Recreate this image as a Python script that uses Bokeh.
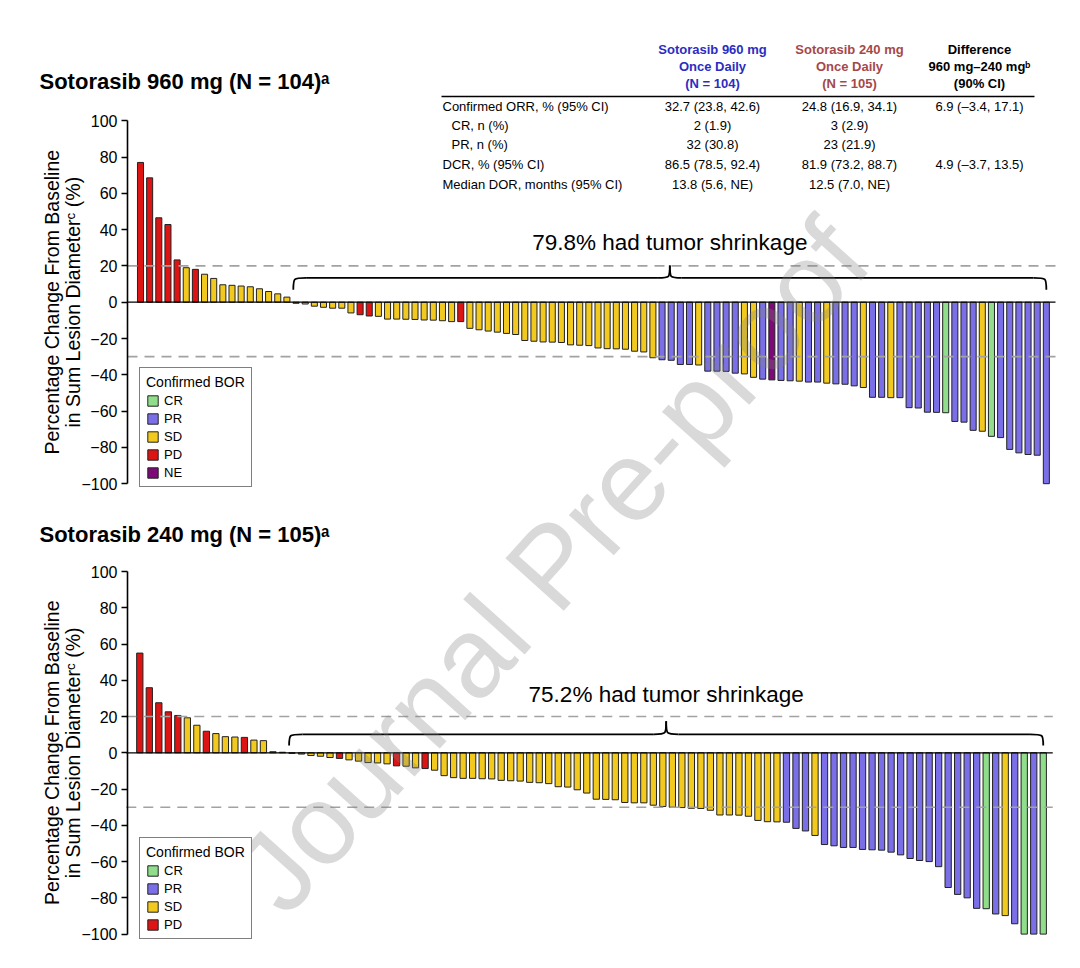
from bokeh.plotting import figure
from bokeh.models import (Range1d, FixedTicker, Label, Legend, LegendItem,
                          ColumnDataSource, LinearAxis)
from bokeh.embed import file_html
from bokeh.resources import INLINE

FONT = "Liberation Sans"

# ------------------------------------------------------------------ data
bor_categories = ["CR", "PR", "SD", "PD", "NE"]

top_title = "Sotorasib 960 mg (N = 104)\u1d43"
bot_title = "Sotorasib 240 mg (N = 105)\u1d43"
top_shrink_text = "79.8% had tumor shrinkage"
bot_shrink_text = "75.2% had tumor shrinkage"

top_change = [77.0, 68.5, 46.5, 42.8, 23.3, 19.0, 18.1, 15.4, 13.1, 9.6,
              9.3, 8.9, 8.5, 7.4, 5.9, 4.6, 2.8, -0.6, -1.0, -2.2,
              -2.8, -3.3, -3.3, -5.9, -6.9, -7.6, -7.8, -9.3, -9.3, -9.4,
              -9.5, -9.8, -9.9, -10.2, -10.7, -10.7, -14.4, -15.2, -15.9, -16.5,
              -17.2, -17.8, -21.1, -21.5, -21.9, -22.0, -22.2, -23.5, -23.7, -23.9,
              -25.2, -25.6, -25.7, -25.9, -27.0, -27.4, -30.6, -31.7, -32.0, -34.3,
              -34.3, -34.6, -38.0, -38.0, -38.1, -39.1, -39.5, -41.4, -42.4, -42.8,
              -43.1, -43.3, -43.5, -44.0, -44.0, -44.6, -45.0, -45.2, -46.1, -47.0,
              -52.4, -52.4, -52.6, -52.6, -58.1, -58.3, -60.6, -60.7, -60.9, -65.7,
              -66.1, -70.6, -71.1, -73.9, -74.6, -81.1, -83.0, -83.9, -84.3, -100.0]
top_bor = (["PD", "PD", "PD", "PD", "PD", "SD", "PD", "SD", "SD", "SD"]
           + ["SD"] * 10
           + ["SD", "SD", "SD", "SD", "PD", "PD", "SD", "SD", "SD", "SD"]
           + ["SD", "SD", "SD", "SD", "SD", "PD", "SD", "SD", "SD", "SD"]
           + ["SD"] * 10
           + ["SD", "SD", "SD", "SD", "SD", "SD", "SD", "PR", "PR", "PR"]
           + ["PR", "SD", "PR", "PR", "PR", "PR", "SD", "SD", "PR", "NE"]
           + ["PR", "PR", "SD", "PR", "PR", "SD", "PR", "PR", "PR", "SD"]
           + ["PR", "PR", "SD", "PR", "PR", "PR", "PR", "PR", "CR", "PR"]
           + ["PR", "PR", "SD", "CR", "PR", "PR", "PR", "PR", "PR", "PR"])

bot_change = [55.0, 35.9, 27.6, 22.6, 20.6, 19.3, 15.2, 11.9, 10.6, 8.9,
              8.7, 8.5, 7.0, 6.7, 0.6, 0.3, -0.3, -0.7, -1.5, -1.9,
              -2.6, -3.1, -3.9, -4.6, -5.4, -5.6, -6.1, -7.2, -7.4, -8.3,
              -8.7, -9.6, -12.6, -13.7, -14.1, -14.1, -14.3, -14.4, -15.2, -15.4,
              -15.6, -16.3, -16.5, -17.0, -18.7, -18.9, -20.4, -22.2, -25.6, -25.7,
              -25.9, -27.4, -27.6, -27.6, -28.9, -29.6, -30.0, -30.2, -30.6, -30.7,
              -31.7, -34.3, -34.3, -34.4, -35.0, -37.3, -38.0, -38.1, -38.3, -41.7,
              -43.1, -45.6, -50.6, -51.3, -52.2, -52.2, -53.3, -53.5, -53.7, -54.8,
              -56.3, -58.3, -59.4, -60.0, -62.8, -74.3, -78.1, -80.0, -85.8, -86.0,
              -88.9, -89.8, -94.3, -100.0, -100.0, -100.0]
bot_bor = (["PD", "PD", "PD", "PD", "PD", "SD", "SD", "PD", "SD", "SD"]
           + ["SD", "PD", "SD", "SD", "SD", "SD", "SD", "SD", "SD", "SD"]
           + ["SD", "PD", "SD", "SD", "SD", "SD", "SD", "PD", "SD", "SD"]
           + ["PD", "SD"] + ["SD"] * 8
           + ["SD"] * 10
           + ["SD"] * 10
           + ["SD"] * 8 + ["PR", "PR"]
           + ["PR", "SD"] + ["PR"] * 8
           + ["PR"] * 9 + ["CR"]
           + ["PR", "SD", "PR", "CR", "PR", "CR"])

tick_values = [-100, -80, -60, -40, -20, 0, 20, 40, 60, 80, 100]
tick_labels = ["\u2212100", "\u221280", "\u221260", "\u221240", "\u221220",
               "0", "20", "40", "60", "80", "100"]
ref_lines = [20, -30]

y_label_1 = "Percentage Change From Baseline"
y_label_2 = "in Sum Lesion Diameter\u1d9c (%)"
legend_title = "Confirmed BOR"

table_headers = [["Sotorasib 960 mg", "Once Daily", "(N = 104)"],
                 ["Sotorasib 240 mg", "Once Daily", "(N = 105)"],
                 ["Difference", "960 mg\u2013240 mg\u1d47", "(90% CI)"]]
table_row_labels = ["Confirmed ORR, % (95% CI)", "CR, n (%)", "PR, n (%)",
                    "DCR, % (95% CI)", "Median DOR, months (95% CI)"]
table_960 = ["32.7 (23.8, 42.6)", "2 (1.9)", "32 (30.8)", "86.5 (78.5, 92.4)", "13.8 (5.6, NE)"]
table_240 = ["24.8 (16.9, 34.1)", "3 (2.9)", "23 (21.9)", "81.9 (73.2, 88.7)", "12.5 (7.0, NE)"]
table_diff = ["6.9 (\u20133.4, 17.1)", "", "", "4.9 (\u20133.7, 13.5)", ""]

watermark = "Journal Pre-proof"

# ------------------------------------------------------------------ styles / geometry
colors = {"CR": "#90de8c", "PR": "#7a6fe6", "SD": "#f2c91e", "PD": "#dc1414", "NE": "#7e0a78"}
header_colors = ["#2c2cc2", "#a5484a", "#000000"]

TOP = dict(first_px=141.0, pitch=9.15, zero_px=302.7, ppu=1.815)
BOT = dict(first_px=140.3, pitch=9.51, zero_px=753.3, ppu=1.813)
W, H, OFF = 1064, 952, 1


def xd(g, X):
    return 1 + (X - g["first_px"]) / g["pitch"]


def yd(g, Y):
    return (g["zero_px"] - Y) / g["ppu"]


p = figure(width=W, height=H, title=None, output_backend="svg", toolbar_location=None,
           x_axis_type=None, y_axis_type=None, min_border=0,
           x_range=Range1d(xd(TOP, OFF), xd(TOP, OFF + W)),
           y_range=Range1d(yd(TOP, OFF + H), yd(TOP, OFF)))
p.extra_x_ranges = {"bx": Range1d(xd(BOT, OFF), xd(BOT, OFF + W))}
p.extra_y_ranges = {"by": Range1d(yd(BOT, OFF + H), yd(BOT, OFF))}
p.outline_line_color = None
p.background_fill_color = "white"

AXIS_X = xd(TOP, 128)


def label(g, rn, X, Y, text, **kw):
    args = dict(x=xd(g, X), y=yd(g, Y), text=text, text_font=FONT, text_font_size="13px",
                text_align="left", text_baseline="middle", text_color="black")
    args.update(kw)
    p.add_layout(Label(**args, **rn))


def brace(g, rn, x0, x1, y_line, y_end, y_peak, r, rc):
    xc = (x0 + x1) / 2
    p.bezier(x0=[x0, xc - rc, xc + rc, x1 - r], y0=[y_end, y_line, y_line, y_line],
             x1=[x0 + r, xc, xc, x1], y1=[y_line, y_peak, y_peak, y_end],
             cx0=[x0, xc, xc, x1], cy0=[y_line] * 4,
             cx1=[x0, xc, xc, x1], cy1=[y_line] * 4,
             line_color="black", line_width=1.8, **rn)
    p.segment(x0=[x0 + r, xc + rc], y0=[y_line, y_line], x1=[xc - rc, x1 - r],
              y1=[y_line, y_line], line_color="black", line_width=1.8, **rn)
    return xc


def panel(g, rn, change, bor, title, shrink, brace_y, legend_loc, title_y):
    n = len(change)
    idx = list(range(1, n + 1))
    ax = LinearAxis(ticker=FixedTicker(ticks=tick_values), bounds=(-100, 100),
                    fixed_location=AXIS_X, **({"y_range_name": rn["y_range_name"]} if rn else {}))
    ax.major_label_overrides = dict(zip(tick_values, tick_labels))
    ax.axis_line_width = 1.6
    ax.axis_line_color = "black"
    ax.major_tick_line_width = 1.4
    ax.major_tick_line_color = "black"
    ax.major_tick_out = 6
    ax.major_tick_in = 0
    ax.minor_tick_line_color = None
    ax.major_label_standoff = 4
    ax.major_label_text_font = FONT
    ax.major_label_text_font_size = "16px"
    ax.major_label_text_color = "black"
    p.add_layout(ax, "left")

    items = []
    for cat in bor_categories:
        xs = [i for i, b in zip(idx, bor) if b == cat]
        if not xs:
            continue
        vs = [v for v, b in zip(change, bor) if b == cat]
        src = ColumnDataSource(dict(x=xs, top=vs))
        r = p.vbar(x="x", top="top", bottom=0, width=0.66, source=src,
                   fill_color=colors[cat], line_color="#222222", line_width=1, **rn)
        items.append(LegendItem(label=cat, renderers=[r]))

    x_end = n + 1.0
    p.segment(x0=[AXIS_X] * len(ref_lines), y0=ref_lines, x1=[x_end] * len(ref_lines),
              y1=ref_lines, line_color="#a2a2a2", line_width=1.6, line_dash="10 7", **rn)
    p.segment(x0=[AXIS_X], y0=[0], x1=[x_end], y1=[0], line_color="black",
              line_width=1.3, **rn)

    n_pos = sum(1 for v in change if v > 0)
    y_line, y_end, y_peak, y_text = brace_y
    xc = brace(g, rn, n_pos + 0.7, n, y_line, y_end, y_peak, 1.4, 1.3)
    p.add_layout(Label(x=xc, y=y_text, text=shrink, text_font=FONT, text_font_size="22.5px",
                       text_align="center", text_baseline="middle", text_color="black", **rn))

    label(g, rn, 40, title_y, title, text_font_size="22px", text_font_style="bold")
    label(g, rn, 52, g["zero_px"], y_label_1, text_font_size="19.5px", angle=90,
          angle_units="deg", text_align="center")
    label(g, rn, 73, g["zero_px"], y_label_2, text_font_size="19.5px", angle=90,
          angle_units="deg", text_align="center")

    leg = Legend(items=items, location=legend_loc, title=legend_title,
                 title_text_font=FONT, title_text_font_size="14px",
                 title_text_font_style="normal", title_text_color="black", title_standoff=3,
                 label_text_font=FONT, label_text_font_size="13px", label_text_color="black",
                 glyph_width=13, glyph_height=13, label_height=15, spacing=3,
                 label_standoff=5, padding=6, margin=0,
                 border_line_color="black", border_line_width=1.5,
                 background_fill_color="white", background_fill_alpha=1.0)
    p.add_layout(leg)


# legend locations: screen px from the frame's bottom-left corner
panel(TOP, {}, top_change, top_bor, top_title, top_shrink_text,
      (13.4, 6.8, 20.2, 32.9), (140 - OFF, OFF + H - 488), 82)
panel(BOT, {"x_range_name": "bx", "y_range_name": "by"}, bot_change, bot_bor, bot_title,
      bot_shrink_text, (10.2, 4.0, 17.4, 32.2), (140 - OFF, OFF + H - 940), 535)

# ------------------------------------------------------------------ table (top panel)
col_x = [713, 850, 980]
head_y = [50, 67, 84]
row_y = [107, 126, 145, 165, 185]
row_label_x = [443, 452, 452, 443, 443]
for cx, heads, colr in zip(col_x, table_headers, header_colors):
    for hy, h in zip(head_y, heads):
        label(TOP, {}, cx, hy, h, text_align="center", text_font_style="bold", text_color=colr)
p.segment(x0=[xd(TOP, 442)], y0=[yd(TOP, 97)], x1=[xd(TOP, 1035)], y1=[yd(TOP, 97)],
          line_color="black", line_width=1.6)
for ry, lx, lab, a, b, c in zip(row_y, row_label_x, table_row_labels, table_960, table_240, table_diff):
    label(TOP, {}, lx, ry, lab)
    for cx, t in zip(col_x, (a, b, c)):
        if t:
            label(TOP, {}, cx, ry, t, text_align="center")

# ------------------------------------------------------------------ watermark
p.add_layout(Label(x=xd(TOP, 552), y=yd(TOP, 566), text=watermark, angle=48, angle_units="deg",
                   text_font=FONT, text_font_size="114px", text_color="#808080", text_alpha=0.3,
                   text_align="center", text_baseline="middle"))

open("out.html", "w").write(file_html(p, INLINE))
